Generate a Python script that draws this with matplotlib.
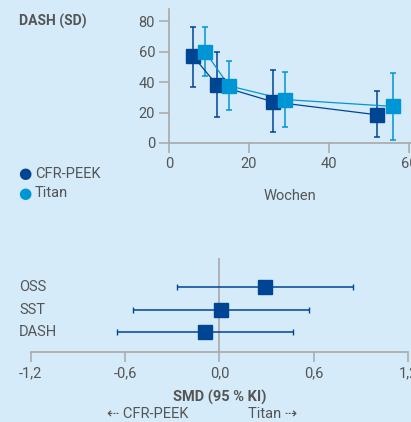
import matplotlib
matplotlib.use('Agg')
import matplotlib.pyplot as plt
import matplotlib.transforms as mtransforms
import numpy as np

plt.rcParams['font.family'] = ['Roboto', 'DejaVu Sans']

BG = '#D5EBF9'
DARK = '#004494'
LIGHT = '#0096D6'
TXT = '#555555'
AXC = '#A8A8A8'

# Verlauf DASH (Mittelwert, SD-Grenzen)
peek_wochen = [6, 12, 26, 52]
peek_mw = [57, 38, 27, 18.5]
peek_lo = [37, 17, 7, 4]
peek_hi = [76, 60, 48, 34]

titan_wochen = [9, 15, 29, 56]
titan_mw = [60, 37.5, 28.5, 24]
titan_lo = [44, 21.5, 10.5, 2]
titan_hi = [76, 54, 46.5, 46]

# Forest-Plot SMD (95 % KI)
scores = ['DASH', 'SST', 'OSS']
smd = [-0.09, 0.01, 0.29]
ki_lo = [-0.65, -0.55, -0.27]
ki_hi = [0.47, 0.57, 0.85]

fig = plt.figure(figsize=(4.11, 4.22), dpi=100, facecolor=BG)

# --- oben: Verlauf ---
ax = fig.add_axes([169 / 411, 1 - 143 / 422, 242 / 411, 134 / 422])
ax.set_facecolor(BG)
for wo, mw, lo, hi, col in [(peek_wochen, peek_mw, peek_lo, peek_hi, DARK),
                            (titan_wochen, titan_mw, titan_lo, titan_hi, LIGHT)]:
    mw = np.array(mw)
    yerr = [mw - np.array(lo), np.array(hi) - mw]
    ax.errorbar(wo, mw, yerr=yerr, fmt='none', ecolor=col, elinewidth=1.1,
                capsize=2.5, capthick=1.1, zorder=2)
    ax.plot(wo, mw, color=col, lw=0.9, zorder=3)
    ax.plot(wo, mw, 's', color=col, ms=10, mec=col, zorder=4)

ax.set_xlim(0, 60.5)
ax.set_ylim(0, 87.9)
ax.set_xticks([0, 20, 40, 60])
ax.set_yticks([0, 20, 40, 60, 80])
for s in ['top', 'right']:
    ax.spines[s].set_visible(False)
for s in ['left', 'bottom']:
    ax.spines[s].set_color(AXC)
    ax.spines[s].set_linewidth(1.2)
ax.tick_params(colors=AXC, labelcolor=TXT, labelsize=10.5, length=7, width=1.1, pad=3)
ax.set_xlabel('Wochen', color=TXT, fontsize=10.5, labelpad=13)

fig.text(19 / 411, 1 - 21 / 422, 'DASH (SD)', fontsize=10, fontweight='bold',
         color=TXT, va='center', ha='left')

# Legende
for yy, lab, col in [(174, 'CFR-PEEK', DARK), (193, 'Titan', LIGHT)]:
    fig.text(18 / 411, 1 - yy / 422, '\u25CF', color=col, fontsize=11,
             va='center', ha='left', family='DejaVu Sans')
    fig.text(35 / 411, 1 - yy / 422, lab, color=TXT, fontsize=10.5, va='center', ha='left')

# --- unten: Forest-Plot ---
bx = fig.add_axes([30.7 / 411, 1 - 352 / 422, 377.3 / 411, 94.3 / 422])
bx.set_facecolor(BG)
ypos = np.arange(1, len(scores) + 1)
smd_a = np.array(smd)
xerr = [smd_a - np.array(ki_lo), np.array(ki_hi) - smd_a]
bx.axvline(0, color=AXC, lw=1.2, zorder=1)
bx.errorbar(smd_a, ypos, xerr=xerr, fmt='none', ecolor=DARK, elinewidth=1.1,
            capsize=2, capthick=1.0, zorder=2)
bx.plot(smd_a, ypos, 's', color=DARK, ms=10, zorder=3)
bx.set_xlim(-1.2, 1.2)
bx.set_ylim(0.124, 4.316)
bx.set_xticks([-1.2, -0.6, 0.0, 0.6, 1.2])
bx.set_xticklabels(['-1,2', '-0,6', '0,0', '0,6', '1,2'])
bx.set_yticks([])
for s in ['top', 'right', 'left']:
    bx.spines[s].set_visible(False)
bx.spines['bottom'].set_color(AXC)
bx.spines['bottom'].set_linewidth(1.2)
bx.tick_params(axis='x', colors=AXC, labelcolor=TXT, labelsize=10.5, length=7, width=1.1, pad=3)

trans = mtransforms.blended_transform_factory(fig.transFigure, bx.transData)
for y, lab in zip(ypos, scores):
    bx.text(19 / 411, y, lab, transform=trans, color=TXT, fontsize=10.5,
            va='center', ha='left')

fig.text(220 / 411, 1 - 397 / 422, 'SMD (95 % KI)', fontsize=10.5, fontweight='bold',
         color=TXT, ha='center', va='center')
fig.text(188 / 411, 1 - 414 / 422, '\u21E0 CFR-PEEK', fontsize=10.5, color=TXT,
         ha='right', va='center')
fig.text(248 / 411, 1 - 414 / 422, 'Titan \u21E2', fontsize=10.5, color=TXT,
         ha='left', va='center')

fig.savefig('out.png', dpi=100, facecolor=BG)
